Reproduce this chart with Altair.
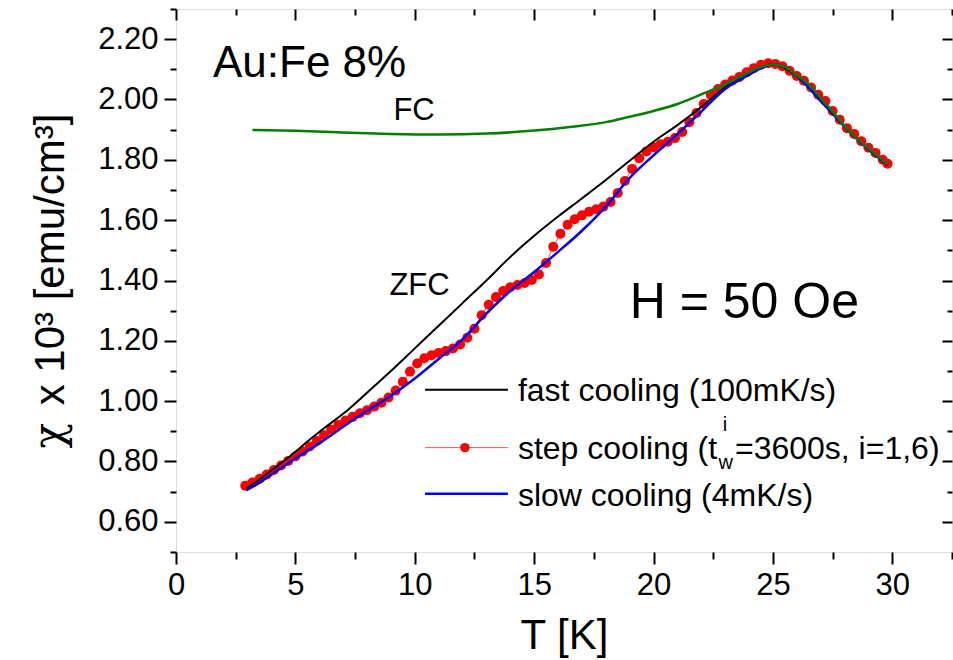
import altair as alt
import pandas as pd

# ---------------- data ----------------
T_step = [2.9, 3.2, 3.5, 3.8, 4.1, 4.4, 4.7, 5.0, 5.3, 5.6,
          5.9, 6.2, 6.5, 6.8, 7.1, 7.4, 7.7, 8.0, 8.3, 8.6,
          8.9, 9.2, 9.5, 9.8, 10.1, 10.4, 10.7, 11.0, 11.3, 11.6,
          11.9, 12.2, 12.5, 12.8, 13.1, 13.4, 13.7, 14.0, 14.3, 14.6,
          14.9, 15.2, 15.5, 15.8, 16.1, 16.4, 16.7, 17.0, 17.3, 17.6,
          17.9, 18.2, 18.5, 18.8, 19.1, 19.4, 19.7, 20.0, 20.3, 20.6,
          20.9, 21.2, 21.5, 21.8, 22.1, 22.4, 22.7, 23.0, 23.3, 23.6,
          23.9, 24.2, 24.5, 24.8, 25.1, 25.4, 25.7, 26.0, 26.3, 26.6,
          26.9, 27.2, 27.5, 27.8, 28.1, 28.4, 28.7, 29.0, 29.3, 29.6,
          29.8]
chi_step = [0.720, 0.730, 0.743, 0.757, 0.772, 0.787, 0.802, 0.817, 0.833, 0.850,
            0.868, 0.887, 0.905, 0.921, 0.936, 0.948, 0.960, 0.970, 0.982, 0.995,
            1.012, 1.035, 1.064, 1.098, 1.125, 1.142, 1.152, 1.160, 1.166, 1.175,
            1.188, 1.210, 1.240, 1.285, 1.320, 1.345, 1.365, 1.378, 1.385, 1.392,
            1.402, 1.420, 1.458, 1.512, 1.555, 1.585, 1.603, 1.616, 1.628, 1.636,
            1.645, 1.660, 1.690, 1.730, 1.770, 1.805, 1.828, 1.842, 1.852, 1.860,
            1.872, 1.892, 1.925, 1.955, 1.985, 2.015, 2.035, 2.050, 2.063, 2.075,
            2.090, 2.104, 2.115, 2.120, 2.118, 2.110, 2.095, 2.078, 2.062, 2.040,
            2.016, 1.995, 1.962, 1.933, 1.905, 1.886, 1.862, 1.840, 1.823, 1.800,
            1.787]

T_slow = [2.95, 3.5, 4.0, 5.0, 6.0, 7.0, 8.0, 9.0, 10.0, 11.0, 12.0, 13.0,
          14.0, 15.0, 16.0, 17.0, 18.0, 19.0, 20.0, 21.0, 22.0, 23.0, 24.0,
          24.5, 25.0, 25.5, 26.0, 26.5, 27.0, 27.5, 28.0, 28.5, 29.0, 29.5, 29.8]
chi_slow = [0.705, 0.730, 0.757, 0.810, 0.860, 0.915, 0.968, 1.018, 1.075, 1.140,
            1.205, 1.290, 1.365, 1.428, 1.495, 1.565, 1.645, 1.740, 1.815, 1.885,
            1.960, 2.035, 2.082, 2.104, 2.117, 2.108, 2.078, 2.040, 1.995, 1.955,
            1.910, 1.870, 1.835, 1.803, 1.782]

T_fast = [2.95, 4.0, 5.0, 5.5, 6.0, 6.5, 7.0, 8.0, 9.0, 10.0, 11.0, 12.0,
          13.0, 14.0, 15.0, 16.0, 17.0, 18.0, 19.0, 20.0, 21.0, 22.0, 23.0,
          24.0, 25.0, 26.0, 27.0, 28.0, 29.0, 29.8]
chi_fast = [0.710, 0.770, 0.832, 0.866, 0.898, 0.928, 0.958, 1.028, 1.100, 1.175,
            1.250, 1.325, 1.400, 1.478, 1.548, 1.612, 1.672, 1.733, 1.797, 1.860,
            1.915, 1.975, 2.040, 2.085, 2.117, 2.078, 1.995, 1.910, 1.835, 1.782]

T_fc = [3.2, 5.0, 7.0, 9.0, 11.0, 13.0, 15.0, 16.5, 18.0, 19.0, 20.0, 21.0,
        22.0, 23.0, 24.0, 24.5, 25.0, 25.5, 26.0, 26.5, 27.0, 27.5, 28.0,
        28.5, 29.0, 29.5, 29.8]
chi_fc = [1.899, 1.896, 1.891, 1.886, 1.884, 1.887, 1.897, 1.909, 1.925, 1.943,
          1.962, 1.985, 2.017, 2.050, 2.090, 2.108, 2.117, 2.108, 2.080, 2.050,
          2.005, 1.960, 1.912, 1.872, 1.838, 1.805, 1.783]

x_major = [0, 5, 10, 15, 20, 25, 30]
x_minor = [2.5, 7.5, 12.5, 17.5, 22.5, 27.5, 32.5]
y_major = [0.6, 0.8, 1.0, 1.2, 1.4, 1.6, 1.8, 2.0, 2.2]
y_minor = [0.5, 0.7, 0.9, 1.1, 1.3, 1.5, 1.7, 1.9, 2.1, 2.3]

# annotations (data coordinates)
ann_text = ["Au:Fe 8%", "FC", "ZFC", "H = 50 Oe"]
ann_T = [1.55, 9.97, 10.2, 19.0]
ann_chi = [2.074, 1.932, 1.352, 1.276]

# y-axis title pieces
ytitle_rest = "x 10³ [emu/cm³]"
ytitle_chi = "χ"
chi_T, chi_chi = -4.75, 0.885

# legend (data coordinates)
leg_labels = ["fast cooling (100mK/s)", "step cooling (t", "slow cooling (4mK/s)"]
leg_line_chi = [1.038, 0.846, 0.693]
leg_text_chi = [1.001, 0.809, 0.654]
leg_T_start, leg_T_end, leg_T_mark, leg_T_text = 10.43, 13.9, 12.1, 14.32
sub_text, sub_T, sub_chi = "w", 22.72, 0.776
sup_text, sup_T, sup_chi = "i", 22.90, 0.902
rest_text, rest_T = "=3600s, i=1,6)", 23.41

X_DOM = [0, 32.5]
Y_DOM = [0.5, 2.3]

FONT = "Liberation Sans, Arial, sans-serif"
NARROW = "Liberation Sans Narrow, Arial Narrow, Liberation Sans, sans-serif"

xs = alt.Scale(domain=X_DOM, nice=False, zero=False)
ys = alt.Scale(domain=Y_DOM, nice=False, zero=False)

df_step = pd.DataFrame({"T": T_step, "chi": chi_step})
df_slow = pd.DataFrame({"T": T_slow, "chi": chi_slow})
df_fast = pd.DataFrame({"T": T_fast, "chi": chi_fast})
df_fc = pd.DataFrame({"T": T_fc, "chi": chi_fc})

common = dict(domain=False, grid=False, tickColor="black", tickWidth=2)

ax_bottom = alt.Axis(orient="bottom", values=x_major, tickSize=12, labelFont=NARROW,
                     labelFontSize=31, labelPadding=6, labelFlush=False, labelOverlap=False,
                     labelColor="black", format="d", title="T [K]", titleFont=NARROW,
                     titleFontSize=42, titleFontWeight="normal", titleColor="black",
                     titleY=96, titleBaseline="alphabetic", **common)
ax_bottom_min = alt.Axis(orient="bottom", values=x_minor, tickSize=7, labels=False,
                         title=None, **common)
ax_top = alt.Axis(orient="top", values=x_major, tickSize=11, offset=-11, labels=False,
                  title=None, **common)
ax_top_min = alt.Axis(orient="top", values=x_minor, tickSize=6, offset=-6, labels=False,
                      title=None, **common)

ax_left = alt.Axis(orient="left", values=y_major, tickSize=12, labelFont=FONT,
                   labelFontSize=31, labelPadding=6, labelColor="black", format=".2f",
                   labelOverlap=False,
                   title=ytitle_rest, titleFont=FONT, titleFontSize=42,
                   titleFontWeight="normal", titleColor="black", titleX=-113, titleY=250,
                   titleAlign="center", titleBaseline="alphabetic", **common)
ax_left_min = alt.Axis(orient="left", values=y_minor, tickSize=6, labels=False,
                       title=None, **common)
ax_right = alt.Axis(orient="right", values=y_major, tickSize=10, offset=-10, labels=False,
                    title=None, **common)
ax_right_min = alt.Axis(orient="right", values=[v for v in y_minor if 0.5 < v < 2.3],
                        tickSize=5, offset=-5, labels=False, title=None, **common)


def enc(x_axis=None, y_axis=None):
    return dict(
        x=alt.X("T:Q", scale=xs, axis=x_axis),
        y=alt.Y("chi:Q", scale=ys, axis=y_axis),
    )


red_line = alt.Chart(df_step).mark_line(color="#ff5050", strokeWidth=1).encode(
    **enc(ax_bottom, ax_left))
red_pts = alt.Chart(df_step).mark_circle(color="#ff0000", size=100, opacity=1).encode(
    **enc(ax_bottom_min, ax_left_min))
black_line = alt.Chart(df_fast).mark_line(color="black", strokeWidth=2,
                                          interpolate="monotone").encode(
    **enc(ax_top, ax_right))
blue_line = alt.Chart(df_slow).mark_line(color="#0000ff", strokeWidth=2.5,
                                         interpolate="monotone").encode(
    **enc(ax_top_min, ax_right_min))
green_line = alt.Chart(df_fc).mark_line(color="#008000", strokeWidth=2.5,
                                        interpolate="monotone").encode(**enc())

df_ann = pd.DataFrame({"T": ann_T, "chi": ann_chi, "txt": ann_text})
ann_layers = []
ann_style = [(44, "left"), (31, "center"), (31, "center"), (50, "left")]
for i, (fs, al) in enumerate(ann_style):
    ann_layers.append(
        alt.Chart(df_ann.iloc[[i]]).mark_text(
            fontSize=fs, font=FONT, align=al, baseline="alphabetic", color="black"
        ).encode(text="txt:N", **enc())
    )

chi_layer = alt.Chart(pd.DataFrame({"T": [chi_T], "chi": [chi_chi], "txt": [ytitle_chi]})
                      ).mark_text(fontSize=42, font="DejaVu Serif", angle=270, align="center",
                                  baseline="alphabetic", color="black").encode(
    text="txt:N", **enc())

leg_colors = ["black", "#ff5050", "#0000ff"]
leg_widths = [2, 1, 2.5]
leg_layers = []
for i in range(3):
    d = pd.DataFrame({"T": [leg_T_start], "T2": [leg_T_end], "chi": [leg_line_chi[i]]})
    leg_layers.append(
        alt.Chart(d).mark_rule(color=leg_colors[i], strokeWidth=leg_widths[i]).encode(
            x2="T2:Q", **enc())
    )
d_mark = pd.DataFrame({"T": [leg_T_mark], "chi": [leg_line_chi[1]]})
leg_layers.append(
    alt.Chart(d_mark).mark_circle(color="#ff0000", size=90, opacity=1).encode(**enc()))

d_txt = pd.DataFrame({"T": [leg_T_text] * 3 + [rest_T], "chi": leg_text_chi + [leg_text_chi[1]],
                      "txt": leg_labels + [rest_text]})
leg_layers.append(
    alt.Chart(d_txt).mark_text(fontSize=32, font=FONT, align="left", baseline="alphabetic",
                               color="black").encode(text="txt:N", **enc()))
d_ss = pd.DataFrame({"T": [sub_T, sup_T], "chi": [sub_chi, sup_chi], "txt": [sub_text, sup_text]})
leg_layers.append(
    alt.Chart(d_ss).mark_text(fontSize=20, font=FONT, align="left", baseline="alphabetic",
                              color="black").encode(text="txt:N", **enc()))

chart = alt.layer(
    red_line, red_pts, black_line, blue_line, green_line, *ann_layers, chi_layer, *leg_layers
).resolve_axis(x="independent", y="independent").properties(
    width=776, height=543,
    autosize=alt.AutoSizeParams(type="none"),
    padding={"left": 176, "top": 9, "right": 1, "bottom": 108},
).configure_view(stroke="black", strokeWidth=2).configure(background="white")

chart.save("out.html", embed_options={"renderer": "svg", "actions": False})
